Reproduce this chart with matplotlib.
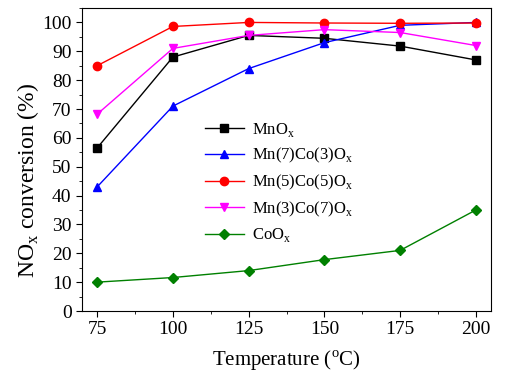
import matplotlib
matplotlib.use('Agg')
import matplotlib.pyplot as plt
from matplotlib.ticker import MultipleLocator

plt.rcParams['font.family'] = ['Liberation Serif', 'DejaVu Serif']
plt.rcParams['mathtext.fontset'] = 'custom'
plt.rcParams['mathtext.rm'] = 'Liberation Serif'

temps = [75, 100, 125, 150, 175, 200]
mnox = [56.5, 88, 95.5, 94.5, 91.8, 87]
mn7co3 = [43, 71, 84, 93, 99, 100]
mn5co5 = [85, 98.6, 100, 99.8, 99.7, 99.8]
mn3co7 = [68.2, 91, 95.5, 97.5, 96.5, 92]
coox = [10, 11.6, 14, 17.8, 21, 35]

series = [
    (mnox, 'MnO$_\\mathrm{x}$', 'black', 's'),
    (mn7co3, 'Mn(7)Co(3)O$_\\mathrm{x}$', 'blue', '^'),
    (mn5co5, 'Mn(5)Co(5)O$_\\mathrm{x}$', 'red', 'o'),
    (mn3co7, 'Mn(3)Co(7)O$_\\mathrm{x}$', 'magenta', 'v'),
    (coox, 'CoO$_\\mathrm{x}$', 'green', 'D'),
]

fig = plt.figure(figsize=(5.09, 3.79), dpi=100)
ax = fig.add_axes([82 / 509, 1 - 311 / 379, 409 / 509, 303 / 379])

for vals, lab, col, mk in series:
    ms = 5 if mk == 'D' else 6
    ax.plot(temps, vals, color=col, marker=mk, markersize=ms, linewidth=1, label=lab)

ax.set_xlim(70, 205)
ax.set_ylim(0, 105)
ax.xaxis.set_major_locator(MultipleLocator(25))
ax.xaxis.set_minor_locator(MultipleLocator(12.5))
ax.yaxis.set_major_locator(MultipleLocator(10))
ax.yaxis.set_minor_locator(MultipleLocator(5))
ax.tick_params(which='both', direction='out', labelsize=14)
ax.tick_params(which='major', length=4)
ax.tick_params(which='minor', length=2.5)

ax.set_xlabel('Temperature ($^\\mathrm{o}$C)', fontsize=15, labelpad=7)
ax.set_ylabel('NO$_\\mathrm{x}$ conversion (%)', fontsize=17)
ax.yaxis.set_label_coords(-0.10, 0.43)

ax.legend(loc='upper left', bbox_to_anchor=(0.285, 0.65), frameon=False, fontsize=12,
          handlelength=2.3, labelspacing=0.45, borderaxespad=0, handletextpad=0.5)

fig.savefig('out.png', dpi=100)
